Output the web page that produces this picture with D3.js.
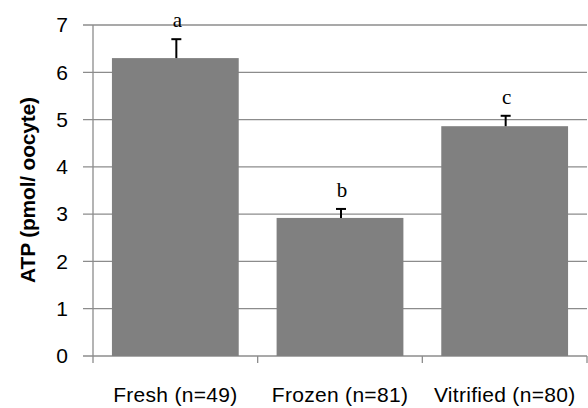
<!DOCTYPE html>
<html>
<head>
<meta charset="utf-8">
<script src="https://cdn.jsdelivr.net/npm/d3@7"></script>
<style>
  body { margin: 0; background: #fff; }
</style>
</head>
<body>
<div id="chart"></div>
<script>
const groups = ["Fresh (n=49)", "Frozen (n=81)", "Vitrified (n=80)"];
const atpMeans = [6.30, 2.92, 4.86];
const atpErrors = [0.40, 0.19, 0.22];
const sigLetters = ["a", "b", "c"];
const yTicks = [0, 1, 2, 3, 4, 5, 6, 7];

const margin = { top: 25, right: 1, bottom: 52, left: 93 };
const width = 588 - margin.left - margin.right;
const height = 408 - margin.top - margin.bottom;

const svg = d3.select("#chart")
  .append("svg")
    .attr("width", 588)
    .attr("height", 408)
  .append("g")
    .attr("transform", `translate(${margin.left}, ${margin.top})`);

const data = groups.map((g, i) => ({ group: g, mean: atpMeans[i], err: atpErrors[i], letter: sigLetters[i] }));

const x = d3.scaleBand()
  .domain(groups)
  .range([0, width])
  .paddingInner(0.23)
  .paddingOuter(0.115);

const band = d3.scaleBand().domain(groups).range([0, width]);

const y = d3.scaleLinear()
  .domain([0, 7])
  .range([height, 0]);

// gridlines
svg.append("g")
  .selectAll("line")
  .data(yTicks)
  .enter()
  .append("line")
    .attr("x1", -10)
    .attr("x2", width)
    .attr("y1", d => y(d))
    .attr("y2", d => y(d))
    .attr("stroke", "#8c8c8c")
    .attr("stroke-width", 1.3);

// y axis line
svg.append("line")
  .attr("x1", 0).attr("x2", 0)
  .attr("y1", 0).attr("y2", height)
  .attr("stroke", "#8c8c8c")
  .attr("stroke-width", 1.3);

// y tick labels
svg.append("g")
  .selectAll("text")
  .data(yTicks)
  .enter()
  .append("text")
    .attr("x", -25)
    .attr("y", d => y(d))
    .attr("dy", "0.35em")
    .attr("text-anchor", "end")
    .style("font-family", "'Liberation Sans', Arial, sans-serif")
    .style("font-size", "21px")
    .text(d => d);

// category boundary ticks
const bounds = groups.map(g => band(g)).concat([width]);
svg.append("g")
  .selectAll("line")
  .data(bounds)
  .enter()
  .append("line")
    .attr("x1", d => d).attr("x2", d => d)
    .attr("y1", height).attr("y2", height + 7)
    .attr("stroke", "#8c8c8c")
    .attr("stroke-width", 1.3);

// bars
svg.selectAll(".bar")
  .data(data)
  .enter()
  .append("rect")
    .attr("class", "bar")
    .attr("x", d => x(d.group))
    .attr("y", d => y(d.mean))
    .attr("width", x.bandwidth())
    .attr("height", d => height - y(d.mean))
    .attr("fill", "#808080");

// error bars (upper only)
const errG = svg.selectAll(".err")
  .data(data)
  .enter()
  .append("g")
    .attr("class", "err")
    .attr("transform", d => `translate(${x(d.group) + x.bandwidth() / 2 + 1}, 0)`);

errG.append("line")
  .attr("x1", 0).attr("x2", 0)
  .attr("y1", d => y(d.mean))
  .attr("y2", d => y(d.mean + d.err))
  .attr("stroke", "#000")
  .attr("stroke-width", 2);

errG.append("line")
  .attr("x1", -5).attr("x2", 5)
  .attr("y1", d => y(d.mean + d.err))
  .attr("y2", d => y(d.mean + d.err))
  .attr("stroke", "#000")
  .attr("stroke-width", 2);

// significance letters
svg.selectAll(".sig")
  .data(data)
  .enter()
  .append("text")
    .attr("class", "sig")
    .attr("x", d => x(d.group) + x.bandwidth() / 2 + 2)
    .attr("y", d => y(d.mean + d.err) - 12)
    .attr("text-anchor", "middle")
    .style("font-family", "'Liberation Serif', 'Times New Roman', serif")
    .style("font-size", "21px")
    .text(d => d.letter);

// x labels
svg.append("g")
  .selectAll("text")
  .data(groups)
  .enter()
  .append("text")
    .attr("x", d => band(d) + band.bandwidth() / 2)
    .attr("y", height + 46)
    .attr("text-anchor", "middle")
    .style("font-family", "'Liberation Sans', Arial, sans-serif")
    .style("font-size", "21px")
    .style("letter-spacing", "0.3px")
    .text(d => d);

// y axis title
svg.append("text")
  .attr("transform", "rotate(-90)")
  .attr("x", -(190 - margin.top))
  .attr("y", -58)
  .attr("text-anchor", "middle")
  .style("font-family", "'Liberation Sans', Arial, sans-serif")
  .style("font-size", "21px")
  .style("font-weight", "bold")
  .style("letter-spacing", "-0.2px")
  .text("ATP (pmol/ oocyte)");
</script>
</body>
</html>
